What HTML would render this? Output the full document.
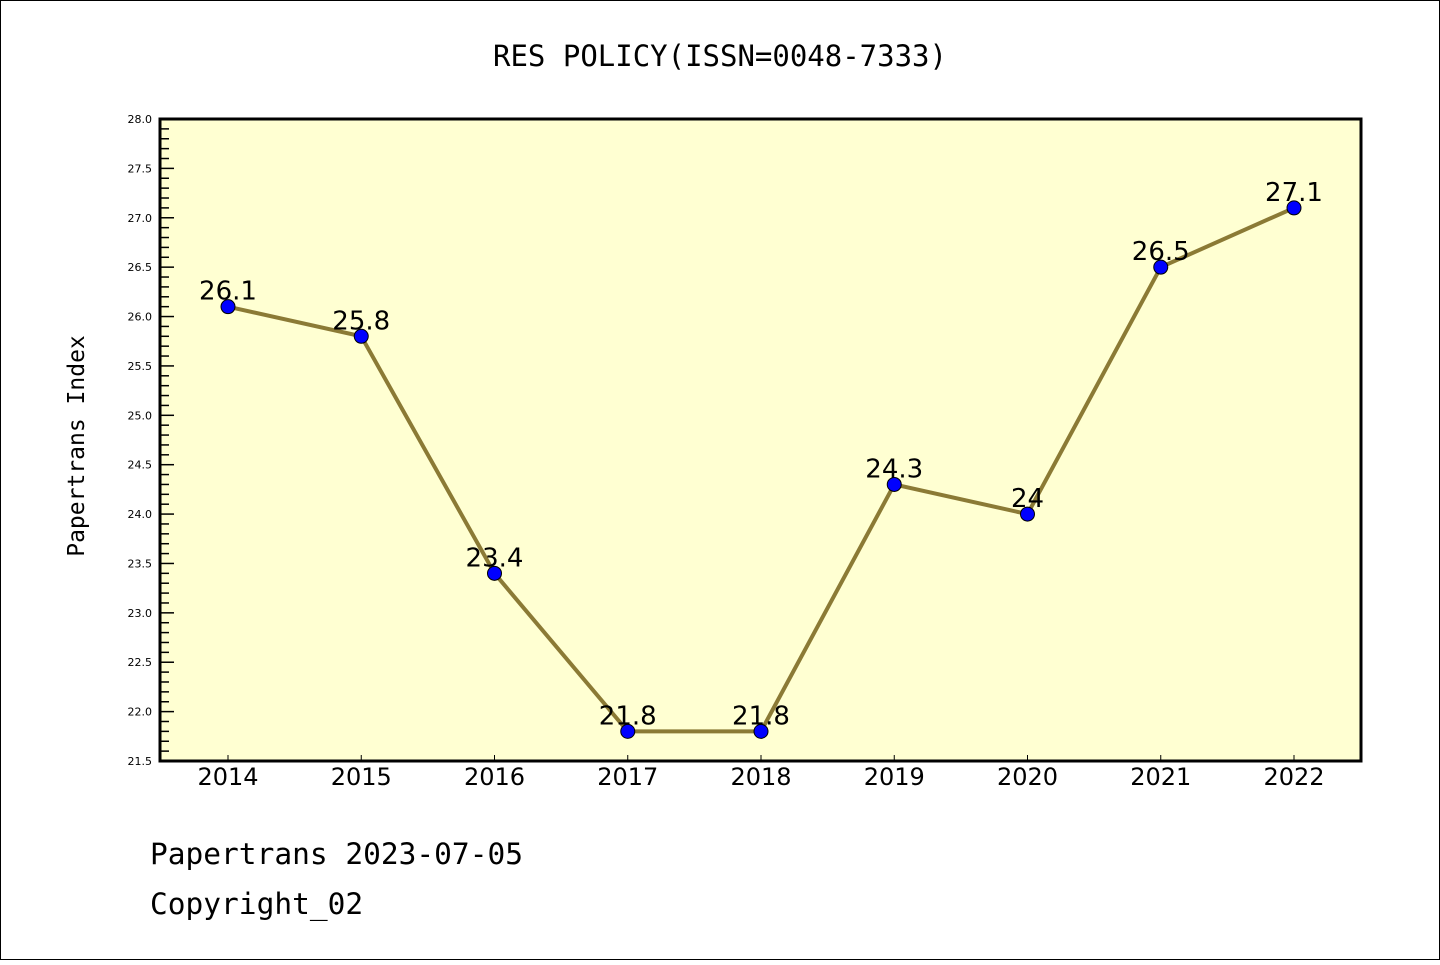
<!DOCTYPE html>
<html><head><meta charset="utf-8"><style>
body{margin:0;background:#fff}
</style></head><body>
<svg width="1440" height="960" xmlns="http://www.w3.org/2000/svg">
<rect x="0.5" y="0.5" width="1439" height="959" fill="#fff" stroke="#000"/>
<text x="720" y="66" font-size="29" text-anchor="middle" style="font-family:'DejaVu Sans Mono','Liberation Mono',monospace">RES POLICY(ISSN=0048-7333)</text>
<rect x="160" y="119" width="1201" height="642" fill="#ffffd2"/>
<g id="axes"></g>
<g id="marks"></g>
<rect x="160" y="119" width="1201" height="642" fill="none" stroke="#000" stroke-width="3"/>
<text transform="translate(84,446) rotate(-90)" font-size="23" text-anchor="middle" style="font-family:'DejaVu Sans Mono','Liberation Mono',monospace">Papertrans Index</text>
<text x="150" y="864" font-size="29.5" style="font-family:'DejaVu Sans Mono','Liberation Mono',monospace">Papertrans 2023-07-05</text>
<text x="150" y="914" font-size="29.5" style="font-family:'DejaVu Sans Mono','Liberation Mono',monospace">Copyright_02</text>
</svg>
<script>
const categories=["2014","2015","2016","2017","2018","2019","2020","2021","2022"];
const values=[26.1,25.8,23.4,21.8,21.8,24.3,24.0,26.5,27.1];
const valueLabels=["26.1","25.8","23.4","21.8","21.8","24.3","24","26.5","27.1"];
const yTicks=["21.5","22.0","22.5","23.0","23.5","24.0","24.5","25.0","25.5","26.0","26.5","27.0","27.5","28.0"];
(function(){
const NS="http://www.w3.org/2000/svg";
const yMin=21.5,yMax=28,plotTop=119,plotBot=761,plotLeft=160;
const y=v=>plotBot-(v-yMin)/(yMax-yMin)*(plotBot-plotTop);
const x=i=>228+i*133.25;
function mk(tag,attrs,parent){const e=document.createElementNS(NS,tag);for(const k in attrs)e.setAttribute(k,attrs[k]);parent.appendChild(e);return e;}
const ax=document.getElementById('axes'),mg=document.getElementById('marks');
const sans="font-family:'DejaVu Sans','Liberation Sans',sans-serif";
for(let v=215;v<=280;v++){const yy=y(v/10);const major=v%5===0;
 const t=mk('line',{x1:plotLeft,x2:plotLeft+(major?14:9),y1:yy,y2:yy,stroke:'#000','stroke-width':1.5},ax);
 
 }
yTicks.forEach(s=>{const t=mk('text',{x:152,y:y(parseFloat(s))+4,'font-size':11,'text-anchor':'end',style:sans},ax);t.textContent=s;
 
 });
categories.forEach((c,i)=>{const l=mk('line',{x1:x(i),x2:x(i),y1:plotBot,y2:plotBot-6,stroke:'#000','stroke-width':1},ax);
 
 
 const t=mk('text',{x:x(i),y:785,'font-size':24,'text-anchor':'middle',style:sans},ax);t.textContent=c;
 
 });
const p=mk('polyline',{points:values.map((v,i)=>x(i)+','+y(v)).join(' '),fill:'none',stroke:'#8b7a35','stroke-width':4},mg);


values.forEach((v,i)=>{const c=mk('circle',{cx:x(i),cy:y(v),r:7,fill:'#0000ff',stroke:'#000','stroke-width':1},mg);
 
 
 const t=mk('text',{x:x(i),y:y(v)-7,'font-size':26,'text-anchor':'middle',style:sans},mg);t.textContent=valueLabels[i];
 
 });
})();
</script>
</body></html>
